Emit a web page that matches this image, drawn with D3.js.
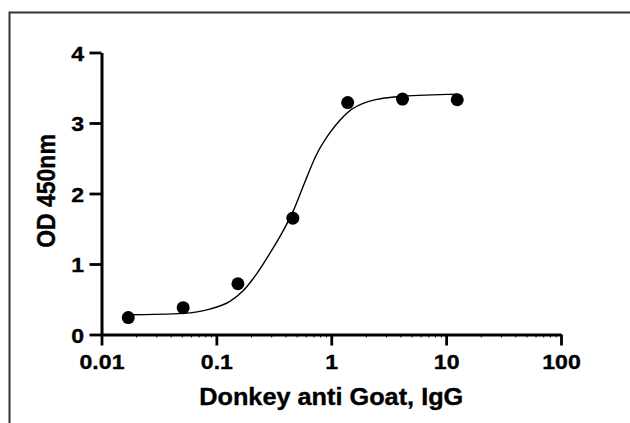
<!DOCTYPE html>
<html>
<head>
<meta charset="utf-8">
<script src="https://cdn.jsdelivr.net/npm/d3@7"></script>
<style>
  body { margin: 0; background: #fff; }
  svg { display: block; }
  text { font-family: "Liberation Sans", Arial, sans-serif; font-weight: bold; fill: #000;
    stroke: #000; stroke-width: 0.35px; }
</style>
</head>
<body>
<svg id="chart"></svg>
<script>
const width = 630;
const height = 423;

// measured points (concentration, OD 450nm)
const conc = [0.0171, 0.0514, 0.154, 0.463, 1.39, 4.17, 12.5];
const od = [0.24, 0.38, 0.72, 1.65, 3.29, 3.34, 3.33];

// fitted curve
const fitConc = [0.0171, 0.0514, 0.0877, 0.131, 0.171, 0.224, 0.292, 0.381, 0.466,
  0.569, 0.743, 0.97, 1.19, 1.39, 2.16, 4.17, 12.5];
const fitOD = [0.28, 0.30, 0.36, 0.47, 0.62, 0.86, 1.15, 1.47, 1.75,
  2.10, 2.55, 2.86, 3.04, 3.15, 3.31, 3.38, 3.41];

const xTicks = [0.01, 0.1, 1, 10, 100];
const xMinorTicks = [2, 3, 4, 5, 6, 7, 8, 9];
const yTicks = [0, 1, 2, 3, 4];

const xLabel = 'Donkey anti Goat, IgG';
const yLabel = 'OD 450nm';

const stretch = 1.1; // glyphs in the picture are a bit wide

const svg = d3.select('#chart')
  .attr('width', width)
  .attr('height', height);

// frame: top and left edge only
svg.append('path')
  .attr('d', `M9.5,${height} V12.5 H${width}`)
  .attr('fill', 'none')
  .attr('stroke', '#333')
  .attr('stroke-width', 2);

const x = d3.scaleLog().domain([0.01, 100]).range([101.5, 561]);
const y = d3.scaleLinear().domain([0, 4]).range([334.5, 52.5]);

// minor ticks on the log axis
const minors = [];
xTicks.slice(0, -1).forEach(d => xMinorTicks.forEach(m => minors.push(d * m)));

svg.append('g')
  .attr('transform', `translate(0, ${y(0)})`)
  .call(d3.axisBottom(x).tickValues(minors).tickSize(3).tickFormat(''))
  .call(g => g.select('.domain').remove())
  .call(g => g.selectAll('line').attr('stroke', '#000').attr('stroke-width', 1));

// x axis
svg.append('g')
  .classed('x-axis', true)
  .attr('transform', `translate(0, ${y(0)})`)
  .call(d3.axisBottom(x).tickValues(xTicks).tickSize(11).tickSizeOuter(0)
    .tickFormat(d3.format('~g')))
  .call(g => g.select('.domain').attr('stroke', '#000').attr('stroke-width', 2.8))
  .call(g => g.selectAll('.tick line').attr('stroke', '#000').attr('stroke-width', 2.8))
  .call(g => g.selectAll('.tick text')
    .attr('y', 0).attr('dy', 0)
    .attr('transform', `translate(0, 34) scale(${stretch}, 1)`)
    .style('font-size', '21px'));

// y axis
svg.append('g')
  .classed('y-axis', true)
  .attr('transform', `translate(${x(0.01)}, 0)`)
  .call(d3.axisLeft(y).tickValues(yTicks).tickSize(12).tickSizeOuter(0)
    .tickFormat(d3.format('d')))
  .call(g => g.select('.domain').attr('stroke', '#000').attr('stroke-width', 3))
  .call(g => g.selectAll('.tick line').attr('stroke', '#000').attr('stroke-width', 2.8))
  .call(g => g.selectAll('.tick text')
    .attr('x', 0).attr('dy', '0.36em')
    .attr('transform', `translate(-17.5, 0) scale(${stretch}, 1)`)
    .style('font-size', '21px'));

// axis titles
svg.append('text')
  .attr('transform', `translate(${(x(0.01) + x(100)) / 2}, 405) scale(${stretch}, 1)`)
  .attr('text-anchor', 'middle')
  .style('font-size', '23px')
  .text(xLabel);

svg.append('text')
  .attr('transform', `translate(55, 191) scale(${stretch}, 1) rotate(-90)`)
  .attr('text-anchor', 'middle')
  .style('font-size', '23px')
  .text(yLabel);

// fitted curve
const line = d3.line()
  .x(d => x(d[0]))
  .y(d => y(d[1]))
  .curve(d3.curveMonotoneX);

svg.append('path')
  .datum(fitConc.map((c, i) => [c, fitOD[i]]))
  .attr('d', line)
  .attr('fill', 'none')
  .attr('stroke', '#000')
  .attr('stroke-width', 1.4);

// data points
svg.append('g')
  .selectAll('circle')
  .data(conc.map((c, i) => ({ c, v: od[i] })))
  .join('circle')
  .attr('cx', d => x(d.c))
  .attr('cy', d => y(d.v))
  .attr('r', 6.5)
  .attr('fill', '#000');
</script>
</body>
</html>
